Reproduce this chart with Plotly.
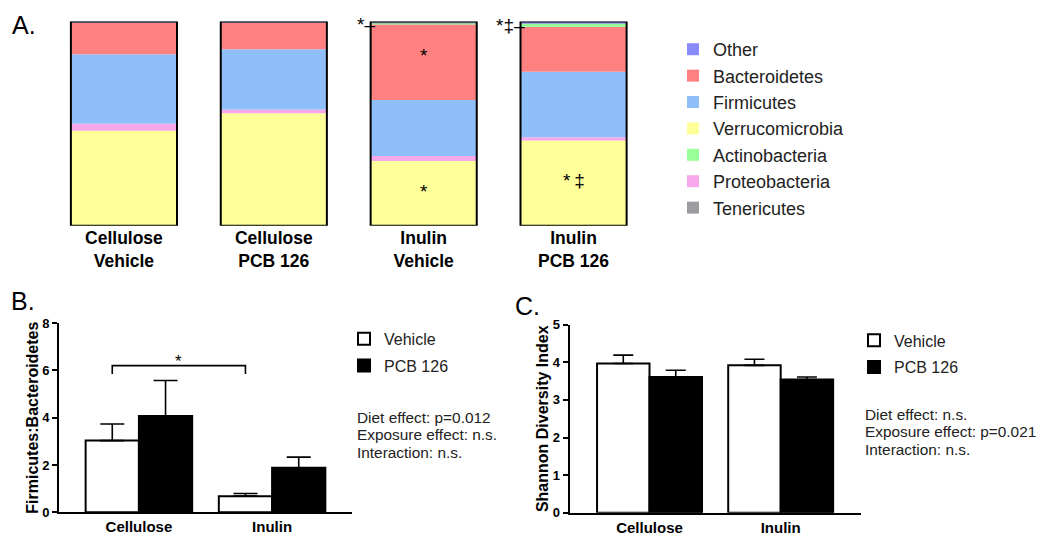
import plotly.graph_objects as go
import numpy as np

W, H = 1042, 546
FONT = "Liberation Sans, Arial, Helvetica, sans-serif"

# ---------------- Panel A data (relative abundance, %) ----------------
groups_a = ["Cellulose<br>Vehicle", "Cellulose<br>PCB 126", "Inulin<br>Vehicle", "Inulin<br>PCB 126"]
verrucomicrobia = [46.5, 55.1, 31.8, 41.8]
proteobacteria = [3.5, 1.9, 2.4, 1.6]
firmicutes = [34.0, 29.5, 27.4, 32.0]
bacteroidetes = [15.8, 13.3, 37.1, 21.9]
actinobacteria = [0.1, 0.1, 0.8, 1.9]
tenericutes = [0.05, 0.05, 0.2, 0.1]
other = [0.05, 0.05, 0.3, 0.7]

# ---------------- Panel B data ----------------
diets = ["Cellulose", "Inulin"]
fb_vehicle = [3.03, 0.68]
fb_vehicle_sem = [0.70, 0.11]
fb_pcb = [4.07, 1.88]
fb_pcb_sem = [1.50, 0.45]

# ---------------- Panel C data ----------------
sh_vehicle = [3.97, 3.92]
sh_vehicle_sem = [0.22, 0.16]
sh_pcb = [3.61, 3.54]
sh_pcb_sem = [0.18, 0.07]


def px(x):
    return x / W


def py(y):
    return 1 - y / H


fig = go.Figure()

# ---- Panel A stacked bars (bottom -> top) ----
phyla = [
    ("Verrucomicrobia", verrucomicrobia, "#FFFF99", 4),
    ("Proteobacteria", proteobacteria, "#F6A8EA", 6),
    ("Firmicutes", firmicutes, "#8FBFF9", 3),
    ("Bacteroidetes", bacteroidetes, "#FF8080", 2),
    ("Actinobacteria", actinobacteria, "#99FF99", 5),
    ("Tenericutes", tenericutes, "#9C9CA0", 7),
    ("Other", other, "#8A8AFF", 1),
]
BW_A = 0.708
cum = np.zeros(len(groups_a))
for name, vals, col, rank in phyla:
    fig.add_trace(go.Bar(
        x=groups_a, y=vals, base=cum.copy(), name=name,
        marker=dict(color=col, line=dict(width=0)),
        width=BW_A, offset=-BW_A / 2, offsetgroup="a",
        xaxis="x", yaxis="y", legend="legend", legendrank=rank,
    ))
    cum = cum + np.array(vals)

# outline of each stacked bar
fig.add_trace(go.Bar(
    x=groups_a, y=cum, base=0, showlegend=False,
    marker=dict(color="rgba(0,0,0,0)", line=dict(color="black", width=2)),
    width=BW_A, offset=-BW_A / 2, offsetgroup="a", xaxis="x", yaxis="y",
    hoverinfo="skip",
))

# ---- Panels B and C: grouped bars on a numeric axis ----
BW = 0.4
xpos = np.arange(len(diets))
for nm, vals, err, fill, cap in [
    ("Vehicle", fb_vehicle, fb_vehicle_sem, "white", 12),
    ("PCB 126", fb_pcb, fb_pcb_sem, "black", 12),
]:
    fig.add_trace(go.Bar(
        x=xpos, y=vals, name=nm, width=BW,
        offset=-BW if nm == "Vehicle" else 0,
        marker=dict(color=fill, line=dict(color="black", width=2)),
        error_y=dict(type="data", array=err, arrayminus=[0] * len(err), symmetric=False,
                     color="black", thickness=1.6, width=cap),
        xaxis="x3", yaxis="y3", legend="legend2", legendgroup="b" + nm,
    ))

for nm, vals, err, fill, cap in [
    ("Vehicle", sh_vehicle, sh_vehicle_sem, "white", 10),
    ("PCB 126", sh_pcb, sh_pcb_sem, "black", 10),
]:
    fig.add_trace(go.Bar(
        x=xpos, y=vals, name=nm, width=BW,
        offset=-BW if nm == "Vehicle" else 0,
        marker=dict(color=fill, line=dict(color="black", width=2)),
        error_y=dict(type="data", array=err, arrayminus=[0] * len(err), symmetric=False,
                     color="black", thickness=1.6, width=cap),
        xaxis="x4", yaxis="y4", legend="legend3", legendgroup="c" + nm,
    ))

# ---- significance bracket in B (Cellulose Vehicle vs Inulin Vehicle) ----
bracket_top = 6.2
bracket_drop = 0.35
xa = xpos[0] - BW / 2
xb = xpos[1] - BW / 2
fig.add_trace(go.Scatter(
    x=[xa, xa, xb, xb],
    y=[bracket_top - bracket_drop, bracket_top, bracket_top, bracket_top - bracket_drop],
    mode="lines", line=dict(color="black", width=1.6), showlegend=False,
    xaxis="x3", yaxis="y3", hoverinfo="skip",
))

tick_bold = dict(family=FONT, size=15, color="black", weight="bold")
ytick_bold = dict(family=FONT, size=13, color="black", weight="bold")
ytitle_font = dict(family=FONT, size=16, color="black", weight="bold")

fig.update_layout(
    width=W, height=H, margin=dict(l=0, r=0, t=0, b=0),
    paper_bgcolor="white", plot_bgcolor="white",
    barmode="group",
    font=dict(family=FONT, color="#111"),
    xaxis=dict(domain=[px(49), px(648.5)], range=[-0.5, 3.5], type="category",
               showline=False, showgrid=False, zeroline=False, ticks="",
               tickfont=dict(family=FONT, size=17.5, color="black", weight="bold"),
               anchor="y"),
    yaxis=dict(domain=[py(225), py(15)], range=[0, 100], visible=False, anchor="x"),
    xaxis3=dict(domain=[px(59), px(352)], range=[-0.6, 1.6],
                tickvals=xpos, ticktext=diets,
                showline=True, linecolor="black", linewidth=2, ticks="",
                showgrid=False, zeroline=False, tickfont=tick_bold, anchor="y3"),
    yaxis3=dict(domain=[py(519.5), py(325)], range=[0, 8], dtick=2,
                showline=True, linecolor="black", linewidth=2, ticks="outside",
                ticklen=5, tickwidth=2, tickcolor="black", showgrid=False, zeroline=False,
                tickfont=ytick_bold,
                title=dict(text="Firmicutes:Bacteroidetes", standoff=0, font=ytitle_font),
                anchor="x3"),
    xaxis4=dict(domain=[px(569.5), px(860.7)], range=[-0.61, 1.61],
                tickvals=xpos, ticktext=diets,
                showline=True, linecolor="black", linewidth=2, ticks="",
                showgrid=False, zeroline=False, tickfont=tick_bold, anchor="y4"),
    yaxis4=dict(domain=[py(520), py(326.7)], range=[0, 5], dtick=1,
                showline=True, linecolor="black", linewidth=2, ticks="outside",
                ticklen=5, tickwidth=2, tickcolor="black", showgrid=False, zeroline=False,
                tickfont=ytick_bold,
                title=dict(text="Shannon Diversity Index", standoff=0, font=ytitle_font),
                anchor="x4"),
    legend=dict(x=px(673), y=py(24.7), xanchor="left", yanchor="top",
                font=dict(family=FONT, size=18, color="#222"), traceorder="normal",
                bgcolor="rgba(0,0,0,0)", borderwidth=0),
    legend2=dict(x=px(344), y=py(323.7), xanchor="left", yanchor="top",
                 font=dict(family=FONT, size=16, color="#222"), tracegroupgap=3,
                 bgcolor="rgba(0,0,0,0)", borderwidth=0),
    legend3=dict(x=px(854), y=py(325.3), xanchor="left", yanchor="top",
                 font=dict(family=FONT, size=16, color="#222"), tracegroupgap=3,
                 bgcolor="rgba(0,0,0,0)", borderwidth=0),
)

ann = []
# panel letters
for txt, x, y in [("A.", 10, 18), ("B.", 9, 302.5), ("C.", 513, 307)]:
    ann.append(dict(text=txt, x=px(x), y=py(y), xref="paper", yref="paper",
                    xanchor="left", yanchor="middle", showarrow=False,
                    font=dict(family=FONT, size=25, color="black")))

# significance marks in panel A
star_font = dict(family=FONT, size=19, color="black")
marks_a = [
    ("*", 2, 83.3, "center", 0),
    ("*", 2, 17.0, "center", 0),
    ("*\u2009\u2021", 3, 22.4, "center", 0),
    ("*\u2013", 2 - BW_A / 2, 98.5, "right", 6),
    ("*\u2021\u2013", 3 - BW_A / 2, 98.1, "right", 6),
]
for txt, xx, yy, anc, sh in marks_a:
    ann.append(dict(text=txt, x=xx, y=yy, xref="x", yref="y", xanchor=anc, xshift=sh,
                    yanchor="middle", showarrow=False, font=star_font))

# star above bracket
ann.append(dict(text="*", x=(xa + xb) / 2, y=bracket_top, xref="x3", yref="y3",
                yanchor="bottom", yshift=-7, showarrow=False,
                font=dict(family=FONT, size=17, color="black")))

# stats text
stat_font = dict(family=FONT, size=15.4, color="#222")
for i, t in enumerate(["Diet effect: p=0.012", "Exposure effect: n.s.", "Interaction: n.s."]):
    ann.append(dict(text=t, x=px(355), y=py(421.7 + 18.3 * i), xref="paper", yref="paper",
                    xanchor="left", yanchor="middle", showarrow=False, font=stat_font))
for i, t in enumerate(["Diet effect: n.s.", "Exposure effect: p=0.021", "Interaction: n.s."]):
    ann.append(dict(text=t, x=px(862.5), y=py(419.5 + 17.5 * i), xref="paper", yref="paper",
                    xanchor="left", yanchor="middle", showarrow=False, font=stat_font))

fig.update_layout(annotations=ann)

fig.write_html("out.html", config={"displayModeBar": False},
               post_script="document.body.style.margin='0px';")
